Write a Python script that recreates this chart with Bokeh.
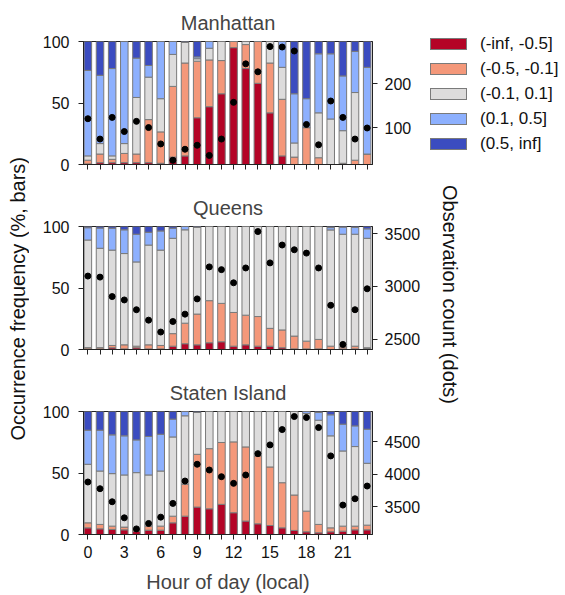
from bokeh.plotting import figure
from bokeh.models import (ColumnDataSource, Range1d, LinearAxis, FixedTicker, Div)
from bokeh.layouts import row, column
from bokeh.embed import file_html
from bokeh.resources import INLINE

FONT = "Liberation Sans"

hours = list(range(24))
bins = ["(-inf, -0.5]", "(-0.5, -0.1]", "(-0.1, 0.1]", "(0.1, 0.5]", "(0.5, inf]"]
colors = ["#b40426", "#f4987a", "#dddcdc", "#8db0fe", "#3b4cc0"]

# Manhattan (percent per bin, stacked bottom -> top) and observation counts
man_red = [0.5, 1.5, 1.5, 1.5, 1.5, 1.5, 1, 6, 7, 38, 47, 57.5, 95, 78, 66, 42, 7, 0, 0, 0, 0, 0, 0, 0]
man_salmon = [3, 7, 2.7, 7.5, 7, 35, 25.5, 57.5, 75.5, 46, 38, 27, 5, 19.5, 34, 40.5, 46, 6, 30, 5.5, 0, 1, 3.5, 8.5]
man_gray = [3.5, 8.5, 2.8, 8, 46, 34.5, 27, 26, 17, 2, 9.5, 15.5, 0, 2.5, 0, 17.5, 26, 11.5, 0, 36.5, 37, 26.5, 55, 0]
man_lblue = [69.5, 55.5, 71, 83, 32, 9.5, 46.5, 10.5, 0, 1.5, 5.5, 0, 0, 0, 0, 0, 21, 40, 23.5, 48, 53, 44.5, 33.5, 70.5]
man_dblue = [23.5, 27.5, 22, 0, 13.5, 19.5, 0, 0, 0.5, 12.5, 0, 0, 0, 0, 0, 0, 0, 42.5, 46.5, 10, 10, 28, 8, 21]
man_count = [121, 75, 124, 92, 115, 101, 64, 27, 52, 61, 38, 75, 158, 245, 227, 284, 283, 274, 108, 62, 161, 124, 75, 100]

# Queens
que_red = [0.5, 0.5, 1.4, 0.5, 1.4, 0.5, 0.5, 2.7, 4.7, 3.8, 5.5, 6.3, 2.7, 3.8, 2.7, 2.7, 1.4, 0.5, 0.5, 0.5, 0, 0.5, 0.5, 0.8]
que_salmon = [1, 1, 1.9, 3.3, 1.3, 3.3, 2.8, 10.2, 16.7, 25, 34.2, 31.2, 27.4, 24.1, 24.1, 14.5, 14.5, 10.4, 6.3, 7.7, 2.7, 1.6, 2.2, 0.6]
que_gray = [87.5, 80.8, 77.5, 74.2, 68.5, 81.1, 77.5, 77.5, 75.9, 70.7, 60.3, 62.5, 69.9, 72.1, 73.2, 82.8, 84.1, 89.1, 93.2, 91.8, 94.5, 91.6, 91, 89]
que_lblue = [10, 16.4, 17.8, 19.3, 22.5, 10.4, 15.6, 8.2, 2.7, 0, 0, 0, 0, 0, 0, 0, 0, 0, 0, 0, 1.9, 5.8, 5.5, 7.7]
que_dblue = [1, 1.3, 1.4, 2.7, 6.3, 4.7, 3.6, 1.4, 0, 0.5, 0, 0, 0, 0, 0, 0, 0, 0, 0, 0, 0.9, 0.5, 0.8, 1.9]
que_count = [3099, 3089, 2904, 2872, 2779, 2680, 2567, 2667, 2737, 2882, 3186, 3160, 3035, 3176, 3522, 3224, 3394, 3349, 3317, 3176, 2821, 2449, 2779, 2978]

# Staten Island
sta_red = [5.4, 4.6, 4.1, 3.8, 2.7, 3.5, 3.5, 9.5, 14.9, 22.3, 20.9, 24.5, 17.7, 10.9, 8.7, 7.3, 5.4, 3.3, 2.2, 1.4, 2.2, 2.7, 3.8, 3.8]
sta_salmon = [4.1, 3.6, 2.7, 2.2, 1.3, 3.3, 3.3, 5.4, 25.9, 42.9, 48.9, 50.3, 57.6, 60.3, 55.2, 47.6, 36.7, 28.8, 16.8, 6.8, 3.2, 4.1, 3, 3.8]
sta_gray = [47.6, 43.4, 42.7, 42.4, 46.3, 41.6, 44.8, 64.4, 55.7, 34, 30.2, 25.2, 24.7, 28.8, 36.1, 45.1, 57.9, 67.9, 79.4, 84.7, 74.8, 61.1, 64.7, 50.3]
sta_lblue = [27.7, 33.2, 31.5, 31.8, 26.6, 31.3, 29.9, 14.5, 3.5, 0, 0, 0, 0, 0, 0, 0, 0, 0, 1.6, 6.3, 17.1, 21.8, 16.8, 27.7]
sta_dblue = [15.2, 15.2, 19, 19.8, 23.1, 20.4, 18.5, 6.2, 0, 0.8, 0, 0, 0, 0, 0, 0, 0, 0, 0, 0.8, 2.7, 10.3, 11.7, 14.4]
sta_count = [3882, 3779, 3579, 3333, 3163, 3246, 3343, 3554, 3897, 4154, 4066, 3963, 3861, 3989, 4317, 4451, 4686, 4886, 4871, 4717, 4282, 3528, 3625, 3820]

x_tick_labels = {h: (str(h) if h % 3 == 0 else "") for h in hours}
keys = ["b0", "b1", "b2", "b3", "b4"]


def panel(title, series, counts, cnt_range, cnt_ticks, right_border,
          bottom_border, bottom_labels):
    src = ColumnDataSource(dict(hour=hours, cnt=counts,
                                **{k: v for k, v in zip(keys, series)}))
    p = figure(frame_width=289, frame_height=123,
               min_border_left=53, min_border_right=right_border,
               min_border_top=41, min_border_bottom=bottom_border,
               x_range=Range1d(-0.36, 23.44), y_range=Range1d(0, 100),
               output_backend="svg", toolbar_location=None, title=title)
    p.title.text_font = FONT
    p.title.text_font_size = "20px"
    p.title.text_font_style = "normal"
    p.title.align = "center"
    p.title.standoff = 16
    p.xgrid.visible = False
    p.ygrid.visible = False
    p.outline_line_color = "#222222"
    p.outline_line_width = 1
    p.extra_y_ranges = {"cnt": Range1d(*cnt_range)}

    p.vbar_stack(keys, x="hour", width=0.62, source=src, color=colors,
                 line_color="#7a7a7a", line_width=1)
    p.scatter("hour", "cnt", source=src, size=6, color="black",
              y_range_name="cnt")

    for ax in (p.xaxis[0], p.yaxis[0]):
        ax.axis_line_color = "#222222"
        ax.major_tick_line_color = "#222222"
        ax.major_tick_out = 5
        ax.major_tick_in = 0
        ax.minor_tick_line_color = None
        ax.major_label_text_font = FONT
        ax.major_label_text_font_size = "16px"
        ax.major_label_text_color = "#111111"
    p.xaxis.ticker = FixedTicker(ticks=hours)
    p.xaxis.major_label_standoff = 6
    if bottom_labels:
        p.xaxis.major_label_overrides = x_tick_labels
        p.xaxis.axis_label = "Hour of day (local)"
        p.xaxis.axis_label_text_font = FONT
        p.xaxis.axis_label_text_font_size = "20px"
        p.xaxis.axis_label_text_font_style = "normal"
        p.xaxis.axis_label_standoff = 10
    else:
        p.xaxis.major_label_overrides = {h: "" for h in hours}
    p.yaxis.ticker = FixedTicker(ticks=[0, 50, 100])
    p.yaxis.major_label_standoff = 9

    rax = LinearAxis(y_range_name="cnt", ticker=FixedTicker(ticks=cnt_ticks))
    rax.axis_line_color = "#222222"
    rax.major_tick_line_color = "#222222"
    rax.major_tick_out = 5
    rax.major_tick_in = 0
    rax.minor_tick_line_color = None
    rax.major_label_text_font = FONT
    rax.major_label_text_font_size = "16px"
    rax.major_label_text_color = "#111111"
    rax.major_label_standoff = 7
    p.add_layout(rax, "right")
    return p


p1 = panel("Manhattan",
           [man_red, man_salmon, man_gray, man_lblue, man_dblue],
           man_count, (17.5, 295.5), [100, 200], 58, 21, False)
p2 = panel("Queens",
           [que_red, que_salmon, que_gray, que_lblue, que_dblue],
           que_count, (2401, 3570), [2500, 3000, 3500], 60, 21, False)
p3 = panel("Staten Island",
           [sta_red, sta_salmon, sta_gray, sta_lblue, sta_dblue],
           sta_count, (3077, 4963), [3500, 4000, 4500], 60, 61, True)

# legend (HTML) to the right of the Manhattan panel
legend_rows = []
for i, (b, c) in enumerate(zip(bins, colors)):
    top = 38 + 25 * i
    legend_rows.append(
        f'<div style="position:absolute;left:0px;top:{top}px;width:37px;height:12px;'
        f'background:{c};border:1px solid #7a7a7a;box-sizing:border-box;"></div>'
        f'<div style="position:absolute;left:50px;top:{top - 4}px;height:20px;'
        f'line-height:20px;font-family:\'Liberation Sans\';font-size:17px;'
        f'color:#111;white-space:nowrap;">{b}</div>')
legend_div = Div(text=('<div style="position:relative;width:135px;height:185px;">'
                       + "".join(legend_rows) + '</div>'),
                 width=135, height=185, margin=(0, 0, 0, 0))

left_div = Div(text=(
    '<div style="position:relative;width:30px;height:595px;">'
    '<div style="position:absolute;left:7px;top:157px;writing-mode:vertical-rl;'
    'transform:rotate(180deg);white-space:nowrap;font-family:\'Liberation Sans\';'
    'font-size:20px;color:#111;line-height:23px;">Occurrence frequency (%, bars)</div></div>'),
    width=30, height=595, margin=(0, 0, 0, 0))

right_div = Div(text=(
    '<div style="position:relative;width:133px;height:410px;">'
    '<div style="position:absolute;left:6px;top:0px;writing-mode:vertical-rl;'
    'white-space:nowrap;font-family:\'Liberation Sans\';'
    'font-size:20px;color:#111;line-height:23px;">Observation count (dots)</div></div>'),
    width=133, height=410, margin=(0, 0, 0, 0))

layout = row(left_div, column(row(p1, legend_div), row(column(p2, p3), right_div)))

open("out.html", "w").write(file_html(layout, INLINE))
